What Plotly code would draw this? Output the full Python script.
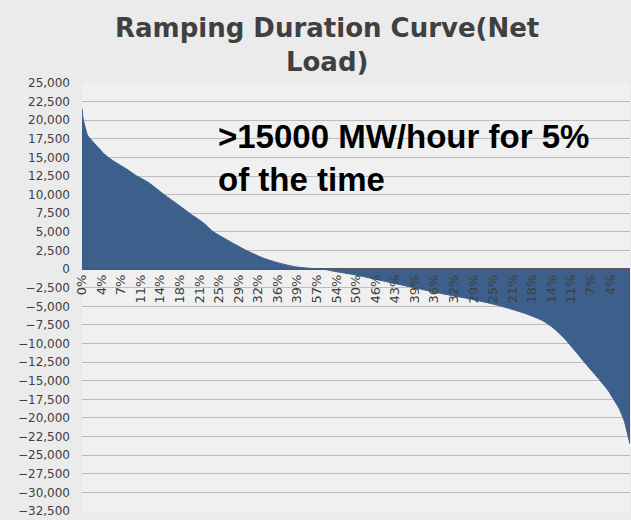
import plotly.graph_objects as go

# Percent-of-time position along the duration curve
time_pct = [0, 0.2, 0.5, 1, 2, 3, 4, 5, 6, 8, 10, 12, 15, 18, 20, 22, 24, 27, 30, 33, 36, 39,
            42, 44, 46, 50, 55, 60, 65, 70, 75, 78, 81, 84, 86, 88, 90, 92, 94, 96, 97, 98, 99,
            99.5, 100]
# Net load ramp (MW/hour)
ramp_mw = [21600, 20200, 19300, 18000, 17100, 16300, 15500, 14900, 14400, 13500, 12500, 11700,
           10000, 8400, 7300, 6300, 5000, 3700, 2500, 1500, 800, 300,
           80, 0, -300, -800, -1600, -2400, -3200, -3900, -4700, -5300, -6000, -6900, -7900,
           -9300, -11000, -12800, -14500, -16300, -17500, -18700, -20500, -22000, -23500]

x_tick_labels = ["0%", "4%", "7%", "11%", "14%", "18%", "21%", "25%", "29%", "32%", "36%", "39%",
                 "57%", "54%", "50%", "46%", "43%", "39%", "36%", "32%", "29%", "25%", "21%",
                 "18%", "14%", "11%", "7%", "4%"]

y_min, y_max, y_step = -32500, 25000, 2500
y_ticks = list(range(y_min, y_max + 1, y_step))

fill_color = "#3d5f8b"

fig = go.Figure()
fig.add_trace(go.Scatter(
    x=time_pct, y=ramp_mw, mode="lines", fill="tozeroy",
    fillcolor=fill_color, line=dict(color=fill_color, width=1, shape="spline", smoothing=0.6),
    hoverinfo="skip", showlegend=False,
))

n = len(x_tick_labels)
tick_vals = [i * 100 / n for i in range(n)]

fig.update_layout(
    width=631, height=520,
    margin=dict(l=82, r=1, t=83, b=9),
    paper_bgcolor="#ebebeb",
    plot_bgcolor="#f0f0f0",
    xaxis=dict(
        range=[0, 100], showgrid=False, zeroline=False, showline=False,
        tickvals=tick_vals, ticktext=x_tick_labels, tickangle=-90,
        tickfont=dict(family="DejaVu Sans", size=13, color="#404040"),
        anchor="free", position=(0 - y_min) / (y_max - y_min),
        ticks="", ticklabelstandoff=2,
    ),
    yaxis=dict(
        range=[y_min, y_max], tickvals=y_ticks,
        tickformat=",d", showgrid=True, gridcolor="#bdbdbd", gridwidth=1,
        zeroline=True, zerolinecolor="#555555", zerolinewidth=2,
        tickfont=dict(family="DejaVu Sans", size=12, color="#404040"),
        ticklabelstandoff=11, ticks="",
    ),
    annotations=[
        dict(
            text="Ramping Duration Curve(Net<br>Load)",
            xref="paper", yref="paper", x=0.447, y=1.168, xanchor="center", yanchor="top",
            align="center", showarrow=False,
            font=dict(family="DejaVu Sans", size=26, color="#404040", weight="bold"),
        ),
        dict(
            text=">15000 MW/hour for 5%<br>of the time",
            xref="paper", yref="paper", x=0.245, y=0.922, xanchor="left", yanchor="top",
            align="left", showarrow=False,
            font=dict(family="Liberation Sans", size=33, color="#000000", weight="bold"),
        ),
    ],
)

fig.write_html(
    "out.html",
    config={"displayModeBar": False},
    post_script="document.body.style.margin='0';document.body.style.overflow='hidden';",
)
